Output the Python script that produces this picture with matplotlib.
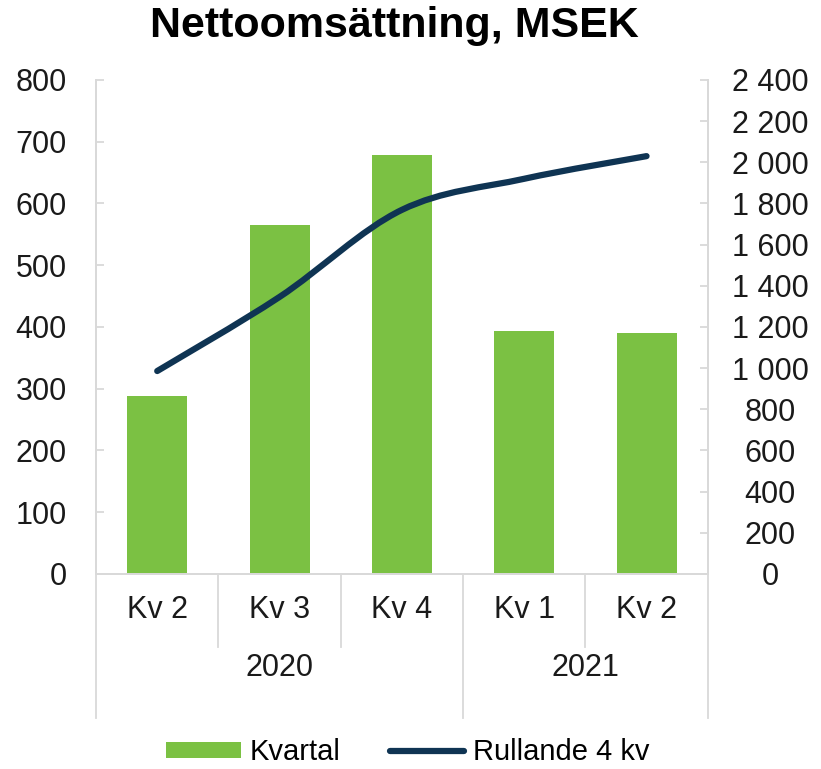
import numpy as np
import matplotlib.pyplot as plt
from matplotlib.path import Path
from matplotlib.patches import PathPatch, Patch
from matplotlib.lines import Line2D
import matplotlib.transforms as mtransforms
from matplotlib.ticker import FuncFormatter

plt.rcParams['font.family'] = ['Liberation Sans', 'DejaVu Sans']

quarters = ['Kv 2', 'Kv 3', 'Kv 4', 'Kv 1', 'Kv 2']
years = ['2020', '2021']
year_span = [3, 2]
kvartal = [288, 565, 678, 393, 390]
rullande = [986, 1346, 1769, 1920, 2030]

green = '#7bc143'
navy = '#0f3453'
grey = '#d9d9d9'

fig = plt.figure(figsize=(8.21, 7.69), dpi=100)
ax = fig.add_axes([0.117, 0.2536, 0.745, 0.6424])
ax2 = ax.twinx()

x = np.arange(len(quarters))
ax.bar(x, kvartal, width=0.49, color=green, zorder=2)
ax.set_xlim(-0.5, len(quarters) - 0.5)
ax.set_ylim(0, 800)
ax.set_yticks(range(0, 801, 100))
ax2.set_ylim(0, 2400)
ax2.set_yticks(range(0, 2401, 200))
ax2.yaxis.set_major_formatter(FuncFormatter(lambda v, p: f'{int(v):,}'.replace(',', ' ')))

# smoothed line (Catmull-Rom -> cubic bezier), like Excel's smooth line
pts = np.column_stack([x, rullande]).astype(float)
ext = np.vstack([pts[0], pts, pts[-1]])
verts = [pts[0]]
codes = [Path.MOVETO]
for i in range(1, len(ext) - 2):
    p0, p1, p2, p3 = ext[i - 1], ext[i], ext[i + 1], ext[i + 2]
    verts += [p1 + (p2 - p0) / 6, p2 - (p3 - p1) / 6, p2]
    codes += [Path.CURVE4] * 3
ax2.add_patch(PathPatch(Path(verts, codes), facecolor='none', edgecolor=navy,
                        lw=4.5, capstyle='round', zorder=3))

for a in (ax, ax2):
    a.spines['top'].set_visible(False)
    for s in ('left', 'right', 'bottom'):
        a.spines[s].set_color(grey)
        a.spines[s].set_linewidth(1.3)
ax.tick_params(axis='y', direction='in', length=6, width=1.3, color=grey,
               labelsize=22, pad=21, labelcolor='#1a1a1a')
ax2.tick_params(axis='y', direction='in', length=6, width=1.3, color=grey,
                labelsize=22, pad=45, labelcolor='#1a1a1a')
for lab in ax2.get_yticklabels():
    lab.set_horizontalalignment('center')
ax.set_xticks([])

# category axis with two levels
trans = mtransforms.blended_transform_factory(ax.transData, ax.transAxes)
for i, q in enumerate(quarters):
    ax.text(i, -0.073, q, transform=trans, ha='center', va='center',
            fontsize=22, color='#1a1a1a')
bounds = np.cumsum([0] + year_span) - 0.5
for b in np.arange(-0.5, len(quarters)):
    bottom = -0.291 if b in bounds else -0.148
    ax.plot([b, b], [0, bottom], transform=trans, color=grey, lw=1.3, clip_on=False)
for y, lo, hi in zip(years, bounds[:-1], bounds[1:]):
    ax.text((lo + hi) / 2, -0.19, y, transform=trans, ha='center', va='center',
            fontsize=22, color='#1a1a1a')

fig.text(0.48, 0.966, 'Nettoomsättning, MSEK', ha='center', va='center',
         fontsize=31, fontweight='bold')

handles = [Patch(facecolor=green, edgecolor='none'),
           Line2D([], [], color=navy, lw=4.5, solid_capstyle='round')]
fig.legend(handles, ['Kvartal', 'Rullande 4 kv'], loc='center', ncol=2,
           bbox_to_anchor=(0.497, 0.022), frameon=False, fontsize=21,
           handlelength=2.55, handleheight=0.45, handletextpad=0.3,
           columnspacing=1.7)

fig.savefig('out.png', dpi=100)
